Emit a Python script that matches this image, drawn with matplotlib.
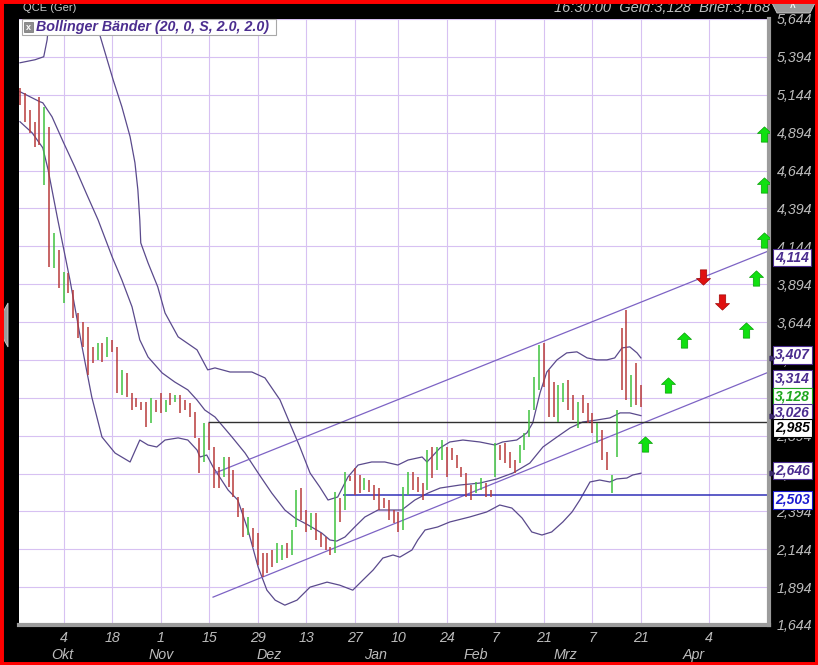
import numpy as np
import matplotlib.pyplot as plt
import matplotlib.transforms as mtransforms
from matplotlib.path import Path
from matplotlib.patches import Rectangle, Polygon

plt.rcParams['font.family'] = ['Liberation Sans', 'DejaVu Sans']

# ---- price bars (high, low, 1 = up / 0 = down), one per trading day ----
highs = [5190, 5157, 5045, 4966, 5131, 5065, 4933, 4233, 4120, 3975,
         3968, 3856, 3704, 3645, 3612, 3480, 3506, 3506, 3546, 3526,
         3480, 3328, 3308, 3176, 3143, 3116, 3116, 3143, 3129, 3176,
         3129, 3176, 3162, 3162, 3129, 3110, 3050, 2879, 2978, 2978,
         2819, 2687, 2753, 2753, 2667, 2489, 2416, 2357, 2284, 2251,
         2119, 2119, 2139, 2185, 2172, 2185, 2271, 2535, 2548, 2403,
         2383, 2383, 2251, 2225, 2159, 2522, 2482, 2654, 2627, 2680,
         2634, 2614, 2601, 2568, 2548, 2482, 2469, 2403, 2390, 2555,
         2654, 2654, 2621, 2581, 2799, 2819, 2819, 2865, 2819, 2813,
         2766, 2687, 2647, 2568, 2588, 2614, 2581, 2535, 2845, 2832,
         2845, 2786, 2733, 2832, 2912, 3063, 3281, 3492, 3506, 3328,
         3248, 3229, 3242, 3262, 3162, 3116, 3162, 3110, 3044, 2978,
         2931, 2786, 2634, 3063, 3605, 3724, 3295, 3374, 3229]
lows = [5078, 4966, 4893, 4801, 4814, 4550, 4008, 4001, 3869, 3770,
        3836, 3671, 3539, 3480, 3295, 3374, 3394, 3380, 3413, 3447,
        3176, 3162, 3149, 3063, 3083, 3063, 2951, 2978, 3050, 3044,
        3050, 3097, 3116, 3044, 3063, 3017, 2879, 2647, 2720, 2799,
        2548, 2548, 2621, 2555, 2489, 2357, 2225, 2238, 2159, 2040,
        1960, 1987, 2027, 2053, 2073, 2086, 2106, 2291, 2337, 2258,
        2271, 2205, 2159, 2139, 2106, 2119, 2324, 2403, 2594, 2502,
        2515, 2535, 2522, 2469, 2403, 2416, 2337, 2317, 2258, 2271,
        2502, 2535, 2522, 2469, 2535, 2614, 2667, 2733, 2621, 2733,
        2680, 2621, 2489, 2469, 2515, 2535, 2489, 2489, 2621, 2733,
        2713, 2680, 2647, 2713, 2799, 2885, 3063, 3195, 3215, 3017,
        3017, 2984, 3116, 3063, 2997, 2945, 3044, 2978, 2912, 2845,
        2733, 2667, 2515, 2753, 3195, 3129, 3083, 3097, 3083]
ups = [0, 0, 0, 0, 0, 1, 0, 1, 0, 1,
       0, 0, 0, 0, 0, 0, 1, 0, 1, 0,
       0, 1, 0, 0, 0, 0, 0, 1, 0, 0,
       1, 0, 1, 0, 0, 0, 0, 0, 1, 0,
       0, 0, 1, 0, 0, 0, 0, 1, 0, 0,
       0, 0, 0, 1, 1, 0, 1, 1, 0, 0,
       1, 0, 0, 0, 0, 1, 0, 1, 0, 0,
       0, 1, 0, 0, 0, 0, 0, 0, 0, 1,
       1, 0, 0, 0, 1, 0, 1, 1, 0, 0,
       0, 0, 0, 0, 1, 1, 0, 0, 1, 0,
       0, 0, 0, 1, 1, 1, 1, 1, 0, 0,
       0, 1, 1, 0, 0, 1, 0, 0, 0, 1,
       0, 0, 1, 1, 0, 0, 1, 0, 0]

# ---- Bollinger bands (20, 2.0) ----
upper_x = [0, 3.1, 4.9, 5.6, 6.0, 8, 11, 14, 15.7, 16.5, 19.2, 21.0, 22.7, 23.7,
           24.3, 24.7, 24.9, 26.4, 28.4, 29.9, 32.6, 36.5, 38.7, 40.2, 43.3,
           47.8, 50.5, 53.6, 55.6, 57.7, 59.8, 61.8, 63.5, 65.5, 67.6, 69.7,
           72.5, 75.2, 77.9, 80.0, 82.9, 83.9, 86.6, 88.6, 91.3, 94.8, 97.9,
           99.5, 102.4, 104.5, 105.7, 107.2, 108.6, 110.7, 112.7, 114.8, 116.9,
           118.9, 121.0, 122.6, 124.1, 125.7, 127.2, 128.0]
upper_y = [5355, 5375, 5395, 5507, 5646, 5850, 5950, 5800, 5646, 5534, 5243, 5065,
           4867, 4695, 4517, 4318, 4166, 4034, 3876, 3704, 3546, 3460, 3328, 3341,
           3314, 3314, 3275, 3130, 2978, 2819, 2647, 2555, 2469, 2489, 2621, 2700,
           2720, 2720, 2700, 2733, 2753, 2720, 2813, 2852, 2865, 2852, 2832, 2852,
           2865, 2912, 2978, 3176, 3314, 3394, 3440, 3447, 3407, 3394, 3394, 3407,
           3473, 3480, 3440, 3407]
middle_x = [0, 4.1, 4.7, 6.6, 8.9, 11.3, 13.8, 16.1, 19.0, 21.0, 23.1, 24.7,
            26.4, 29.3, 31.9, 34.6, 36.5, 38.1, 40.2, 43.7, 46.4, 49.1, 51.9,
            54.6, 56.7, 59.4, 62.2, 63.9, 65.3, 67.0, 69.0, 71.1, 73.8, 76.7,
            78.7, 81.4, 84.1, 86.6, 90.7, 94.8, 98.3, 101.6, 105.1, 107.8,
            110.7, 113.4, 116.0, 118.9, 121.6, 123.7, 125.7, 128.0]
middle_y = [5164, 5098, 5091, 4999, 4834, 4668, 4484, 4318, 4074, 3922, 3744, 3526,
            3413, 3308, 3248, 3196, 3129, 3063, 3017, 2885, 2779, 2647, 2515,
            2403, 2350, 2304, 2251, 2205, 2198, 2225, 2291, 2357, 2403, 2403,
            2403, 2469, 2515, 2548, 2568, 2581, 2608, 2647, 2713, 2819,
            2885, 2945, 2984, 2997, 3011, 3044, 3044, 3026]
lower_x = [0, 2.5, 4.7, 5.8, 7.8, 10.3, 12.8, 14.8, 16.9, 19.6, 22.7, 24.7, 26.4,
           28.2, 29.9, 32.6, 34.6, 36.5, 37.1, 38.5, 39.8, 42.9, 44.9, 47.0, 49.1,
           50.9, 52.6, 54.6, 57.1, 59.8, 63.3, 65.9, 68.6, 70.7, 72.8, 74.8, 76.9,
           78.3, 80.8, 82.0, 83.5, 86.1, 88.6, 92.7, 96.2, 98.9, 101.4, 103.5,
           105.5, 107.6, 109.6, 111.9, 113.8, 115.4, 117.5, 119.5, 121.6, 123.0,
           125.1, 126.3, 128.0]
lower_y = [4966, 4893, 4794, 4649, 4318, 3922, 3480, 3149, 2885, 2779, 2720, 2865, 2832,
           2819, 2865, 2879, 2865, 2799, 2753, 2766, 2687, 2535, 2469, 2271, 2026,
           1874, 1808, 1775, 1808, 1894, 1927, 1907, 1874, 1941, 2007, 2086, 2106,
           2092, 2139, 2205, 2271, 2291, 2324, 2357, 2390, 2436, 2416, 2350,
           2258, 2238, 2258, 2324, 2390, 2469, 2588, 2601, 2588, 2608,
           2614, 2634, 2646]

# ---- drawn objects: trend channel, horizontals, signal arrows ----
trend_hi_x, trend_hi_y = [40.2, 154.4], [2647, 4114]
trend_lo_x, trend_lo_y = [39.8, 154.4], [1828, 3314]
hline_black = (2985, 38.7)
hline_blue = (2503, 66.6)
green_x = [153.3, 153.3, 153.3, 151.7, 149.6, 136.9, 133.6, 128.8]
green_y = [4886, 4550, 4186, 3935, 3592, 3526, 3229, 2839]
red_x = [140.8, 144.7]
red_y = [3942, 3777]

# ---- axis labels ----
day_pos = [9, 19, 29, 39, 49, 59, 69, 78, 88, 98, 108, 118, 128, 142]
day_lab = ['4', '18', '1', '15', '29', '13', '27', '10', '24', '7', '21', '7', '21', '4']
month_pos = [8.7, 29.1, 51.3, 73.2, 94.0, 112.5, 138.9]
month_lab = ['Okt', 'Nov', 'Dez', 'Jan', 'Feb', 'Mrz', 'Apr']
price_ticks = np.arange(1644, 5645, 250)

PURPLE = '#4b2d8f'
label_vals = [4114, 3407, 3314, 3128, 3026, 2985, 2646, 2503]
label_txt = ['4,114', '3,407', '3,314', '3,128', '3,026', '2,985', '2,646', '2,503']
label_col = [PURPLE, PURPLE, PURPLE, '#1fa81f', PURPLE, 'black', PURPLE, '#1a1ad0']
label_shift = [7, -3, 7, -4, -3, 6, -3, 5]
label_tri = [False, True, False, False, True, False, True, False]

W, H = 818, 665
fig = plt.figure(figsize=(W / 100, H / 100), dpi=100, facecolor='black')
ax = fig.add_axes([19 / W, 1 - 625 / H, 750 / W, 606 / H])
ax.set_facecolor('white')

idx = np.arange(len(highs))
cols = ['#3fc23f' if u else '#b83a3a' for u in ups]
ax.vlines(idx, lows, highs, colors=cols, lw=1.1, zorder=3)

band_col = '#5a4a8c'
ax.plot(upper_x, upper_y, color=band_col, lw=0.9, zorder=2)
ax.plot(middle_x, middle_y, color=band_col, lw=0.9, zorder=2)
ax.plot(lower_x, lower_y, color=band_col, lw=0.9, zorder=2)

ax.plot(trend_hi_x, trend_hi_y, color='#7d63c4', lw=0.9, zorder=2)
ax.plot(trend_lo_x, trend_lo_y, color='#7d63c4', lw=0.9, zorder=2)
ax.hlines(hline_black[0], hline_black[1], 154.4, color='#303030', lw=1.0, zorder=2)
ax.hlines(hline_blue[0], hline_blue[1], 154.4, color='#3030b8', lw=1.1, zorder=2)

up_arrow = Path([(-0.21, -0.5), (0.21, -0.5), (0.21, 0.07), (0.46, 0.07), (0, 0.5),
                 (-0.46, 0.07), (-0.21, 0.07), (-0.21, -0.5)])
down_arrow = Path([(x, -y) for x, y in up_arrow.vertices])
ax.plot(green_x, green_y, ls='none', marker=up_arrow, ms=11, mfc='#10e010',
        mec='#0aa00a', mew=0.5, zorder=5)
ax.plot(red_x, red_y, ls='none', marker=down_arrow, ms=11, mfc='#e01010',
        mec='#a00a0a', mew=0.5, zorder=5)

ax.set_xlim(-0.2, 154.4)
ax.set_ylim(1644, 5644)
ax.set_xticks(day_pos)
ax.set_xticklabels(day_lab)
ax.set_yticks(price_ticks)
ax.set_yticklabels([f'{v:,}' for v in price_ticks])
ax.yaxis.tick_right()
ax.tick_params(axis='both', length=0, colors='#bcbcbc', labelsize=10.3)
ax.tick_params(axis='y', pad=31)
ax.tick_params(axis='x', pad=4)
for t in ax.get_yticklabels():
    t.set_ha('right')
    t.set_style('italic')
for t in ax.get_xticklabels():
    t.set_style('italic')
ax.grid(True, color='#d7c1f2', lw=0.8)
ax.set_axisbelow(True)

for s in ['left', 'top']:
    ax.spines[s].set_visible(False)
for s in ['right', 'bottom']:
    ax.spines[s].set_color('#9c9c9c')
    ax.spines[s].set_linewidth(3)

tr = mtransforms.blended_transform_factory(ax.transData, ax.transAxes)
for p, m in zip(month_pos, month_lab):
    ax.text(p, -0.05, m, transform=tr, ha='center', va='center', color='#bcbcbc',
            fontsize=10.3, style='italic')

# value boxes on the price scale
tr_r = mtransforms.blended_transform_factory(ax.transAxes, ax.transData)
for v, txt, c, sh, tri in zip(label_vals, label_txt, label_col, label_shift, label_tri):
    ax.annotate(txt, xy=(1, v), xycoords=tr_r, xytext=(4.3, -sh * 0.72),
                textcoords='offset points', ha='left', va='center', color=c,
                fontsize=10, fontweight='bold', style='italic', zorder=10,
                annotation_clip=False,
                bbox=dict(boxstyle='square,pad=0.12', fc='white', ec=c, lw=0.8))
    if tri:
        ax.plot([1.004], [v], transform=tr_r, marker='>', ms=3.5, color='#3a2a6a',
                clip_on=False, zorder=10)

# header texts
fig.text(23 / W, 1 - 8 / H, 'QCE (Ger)', color='#c8c8c8', fontsize=8, va='center')
fig.text(770 / W, 1 - 8 / H, '16:30:00  Geld:3,128  Brief:3,168', color='#c0c0c0',
         fontsize=10.5, style='italic', va='center', ha='right')

# indicator legend box
fig.add_artist(Rectangle((22 / W, 1 - 35 / H), 254 / W, 16 / H, transform=fig.transFigure,
                         fc='white', ec='#a8a8a8', lw=0.8, zorder=5))
fig.add_artist(Rectangle((24 / W, 1 - 32 / H), 9 / W, 10 / H, transform=fig.transFigure,
                         fc='#8e8e8e', ec='#6e6e6e', lw=0.5, zorder=6))
fig.text(28.5 / W, 1 - 27 / H, 'x', color='white', fontsize=6.5, ha='center', va='center',
         fontweight='bold', zorder=7)
fig.text(36 / W, 1 - 27 / H, 'Bollinger Bänder (20, 0, S, 2.0, 2.0)', color=PURPLE,
         fontsize=10.3, fontweight='bold', style='italic', va='center', zorder=7)

# scroll button and side tab
fig.add_artist(Polygon([(772 / W, 1 - 3 / H), (815 / W, 1 - 3 / H), (810 / W, 1 - 13 / H),
                        (777 / W, 1 - 13 / H)], closed=True, transform=fig.transFigure,
                       fc='#9a9a9a', ec='#d0d0d0', lw=0.6))
fig.text(793 / W, 1 - 8 / H, '^', color='white', fontsize=7, ha='center', va='center',
         fontweight='bold')
fig.add_artist(Polygon([(8 / W, 1 - 303 / H), (3 / W, 1 - 312 / H), (3 / W, 1 - 338 / H),
                        (8 / W, 1 - 347 / H)], closed=True, transform=fig.transFigure,
                       fc='#9a9a9a', ec='#d0d0d0', lw=0.6))

fig.add_artist(Rectangle((0, 0), 1, 1, transform=fig.transFigure, fill=False,
                         ec='#ff0000', lw=5, zorder=20))

fig.savefig('out.png', dpi=100, facecolor='black')
